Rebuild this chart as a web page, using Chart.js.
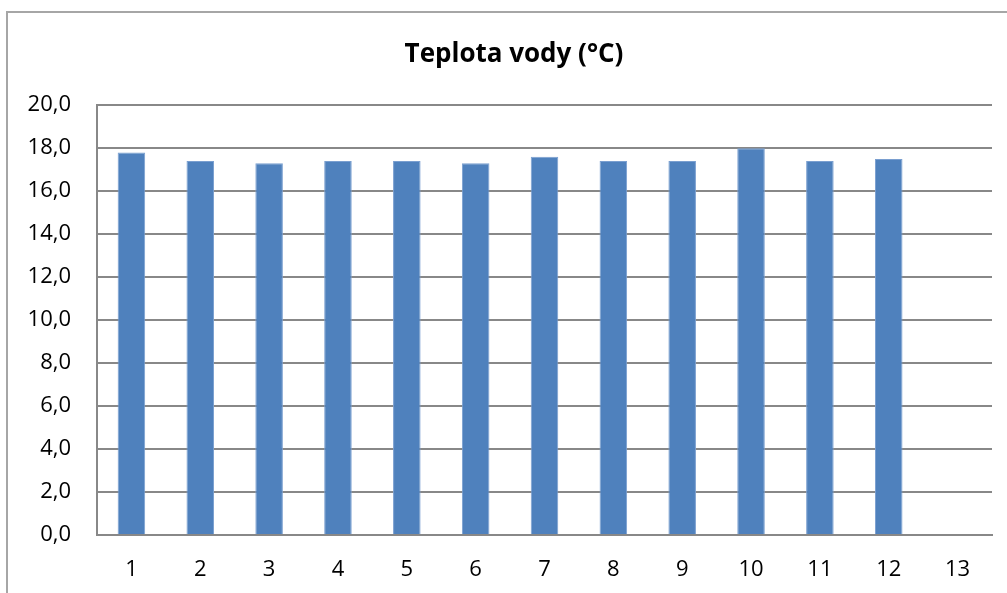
<!DOCTYPE html>
<html>
<head>
<meta charset="utf-8">
<script src="https://cdn.jsdelivr.net/npm/chart.js@4/dist/chart.umd.min.js"></script>
<style>
  html, body { margin: 0; padding: 0; background: #fff; }
  #wrap { position: relative; width: 1007px; height: 593px; overflow: hidden; }
  #frame { position: absolute; left: 6px; top: 11px; width: 1010px; height: 600px;
           border-left: 2px solid #a6a6a6; border-top: 2px solid #a6a6a6; }
  #myChart { position: absolute; left: 0; top: 0; }
</style>
</head>
<body>
<div id="wrap">
  <div id="frame"></div>
  <canvas id="myChart" width="1007" height="593"></canvas>
</div>
<script>
const categories = ['1','2','3','4','5','6','7','8','9','10','11','12','13'];
const temps = [17.8, 17.4, 17.3, 17.4, 17.4, 17.3, 17.6, 17.4, 17.4, 18.0, 17.4, 17.5, null];
const titleText = 'Teplota vody (°C)';

const fontFamily = "'Open Sans', sans-serif";

// nudge the title a bit right so it sits where the original one does
const titleShift = {
    id: 'titleShift',
    afterLayout(chart) {
        if (chart.titleBlock) chart.titleBlock.left += 16;
    }
};

const data = {
    labels: categories,
    datasets: [{
        label: 'Teplota vody',
        data: temps,
        backgroundColor: '#4f81bd',
        borderColor: '#7a9fd0',
        borderWidth: 1,
        borderSkipped: 'bottom',
        categoryPercentage: 1,
        barPercentage: 0.4
    }]
};

const config = {
    type: 'bar',
    data,
    plugins: [titleShift],
    options: {
        responsive: false,
        animation: false,
        layout: { padding: { left: 20, right: 15, top: 12, bottom: 12 } },
        plugins: {
            legend: { display: false },
            tooltip: { enabled: false },
            title: {
                display: true,
                text: titleText,
                color: '#000',
                font: { family: fontFamily, size: 26, weight: 'bold' },
                padding: { top: 27, bottom: 35 }
            }
        },
        scales: {
            x: {
                afterFit: function(scale) { scale.height = 46; },
                grid: { display: false, drawTicks: false },
                border: { display: true, color: '#888', width: 2 },
                ticks: { color: '#000', font: { family: fontFamily, size: 22 }, padding: 22 }
            },
            y: {
                min: 0,
                max: 20,
                afterFit: function(scale) { scale.width = 77; },
                grid: { color: '#888', lineWidth: 2, drawTicks: false },
                border: { display: true, color: '#888', width: 2 },
                ticks: {
                    stepSize: 2,
                    color: '#000',
                    padding: 26,
                    font: { family: fontFamily, size: 22 },
                    callback: function(v) { return v.toFixed(1).replace('.', ','); }
                }
            }
        }
    }
};

const myChart = new Chart(document.getElementById('myChart'), config);
</script>
</body>
</html>
